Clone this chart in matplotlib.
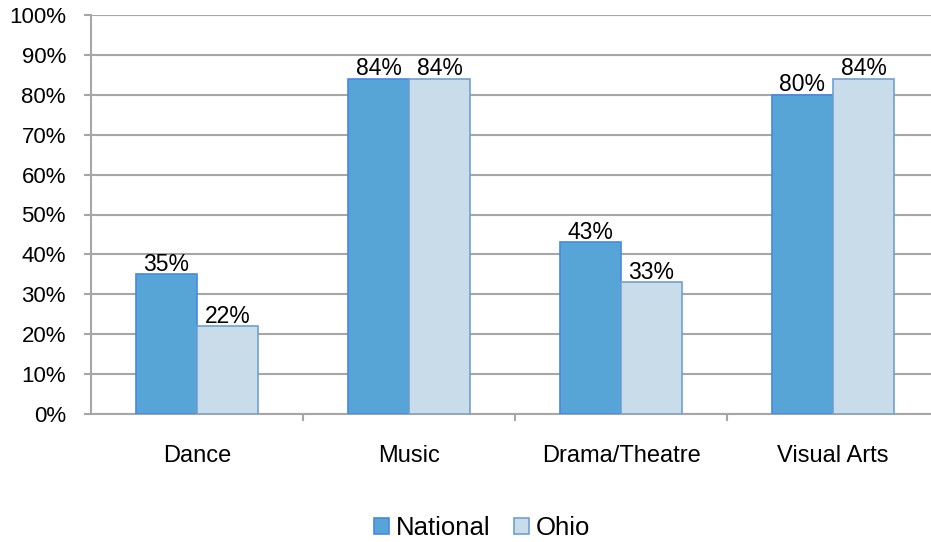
import matplotlib
matplotlib.use("Agg")
import matplotlib.pyplot as plt
import numpy as np

categories = ["Dance", "Music", "Drama/Theatre", "Visual Arts"]
national = [35, 84, 43, 80]
ohio = [22, 84, 33, 84]
series_names = ["National", "Ohio"]
yticks = list(range(0, 101, 10))
ytick_labels = [f"{v}%" for v in yticks]

plt.rcParams['font.family'] = ['Liberation Sans', 'DejaVu Sans']

fig = plt.figure(figsize=(9.31, 5.42), dpi=100)
ax = fig.add_axes([91/931, 128/542, 840/931, 399/542])

x = np.arange(len(categories))
w = 0.288
nat_fc, nat_ec = "#56A5D6", "#4A86E8"
ohio_fc, ohio_ec = "#C8DCEA", "#6FA0D2"
grid_c = "#A6A6A6"

b1 = ax.bar(x - w/2, national, w, color=nat_fc, edgecolor=nat_ec, linewidth=1.2, zorder=3, label=series_names[0])
b2 = ax.bar(x + w/2, ohio, w, color=ohio_fc, edgecolor=ohio_ec, linewidth=1.2, zorder=3, label=series_names[1])

for bars, vals in ((b1, national), (b2, ohio)):
    for r, v in zip(bars, vals):
        ax.annotate(f"{v}%", (r.get_x() + r.get_width()/2, v), xytext=(0, -1),
                    textcoords="offset points", ha="center", va="bottom", fontsize=16.5, zorder=4)

ax.set_ylim(0, 100)
ax.set_xlim(-0.5, -0.5 + 840/212)
ax.set_yticks(yticks)
ax.set_yticklabels(ytick_labels, fontsize=16)
ax.yaxis.grid(True, color=grid_c, linewidth=1.5, zorder=0)
ax.set_axisbelow(True)

ax.set_xticks(x)
ax.set_xticklabels(categories, fontsize=17)
ax.set_xticks([0.5, 1.5, 2.5], minor=True)
ax.tick_params(axis='x', which='major', length=0, pad=22)
ax.tick_params(axis='x', which='minor', length=5, width=1.5, color=grid_c)
ax.tick_params(axis='y', length=5, width=1.5, color=grid_c, pad=13)

for s in ("top", "right"):
    ax.spines[s].set_visible(False)
for s in ("left", "bottom"):
    ax.spines[s].set_color(grid_c)
    ax.spines[s].set_linewidth(1.5)

leg = fig.legend(handles=[b1, b2], labels=series_names, loc="center", bbox_to_anchor=(482/931, 1 - 528/542),
                 ncol=2, frameon=False, fontsize=18.5, handlelength=0.58, handleheight=0.58,
                 handletextpad=0.27, columnspacing=0.9, borderpad=0)

fig.savefig("out.png", dpi=100)
